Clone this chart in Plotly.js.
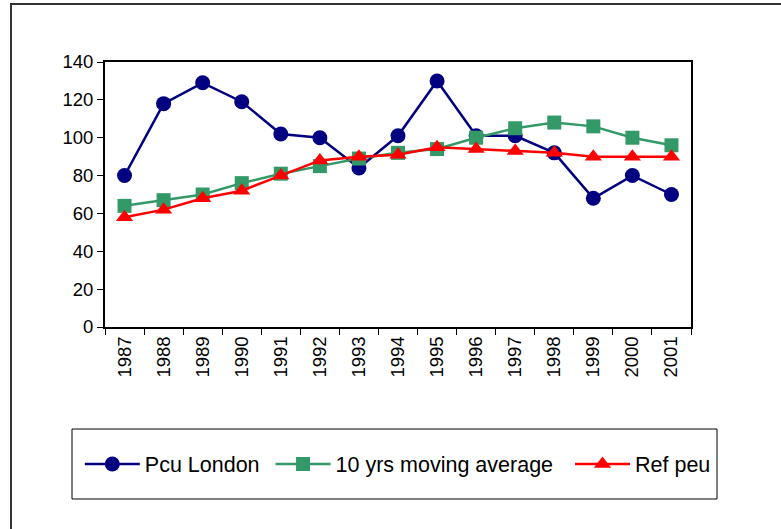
<!DOCTYPE html>
<html>
<head>
<meta charset="utf-8">
<script src="https://cdn.plot.ly/plotly-3.0.1.min.js"></script>
<style>
  html, body { margin: 0; padding: 0; background: #fff; }
  #wrap { position: relative; width: 781px; height: 529px; overflow: hidden; }
  #frame { position: absolute; left: 10px; top: 3px; width: 800px; height: 600px;
           border-left: 2px solid #333; border-top: 2px solid #333; pointer-events: none; }
  #chart { position: absolute; left: 0; top: 0; width: 781px; height: 529px; }
</style>
</head>
<body>
<div id="wrap">
  <div id="chart"></div>
  <div id="frame"></div>
</div>
<script>
const years = ["1987","1988","1989","1990","1991","1992","1993","1994","1995","1996","1997","1998","1999","2000","2001"];
const pcuLondon = [80,118,129,119,102,100,84,101,130,101,101,92,68,80,70];
const movingAvg = [64,67,70,76,81,85,89,92,94,100,105,108,106,100,96];
const refPeu = [58,62,68,72,80,88,90,91,95,94,93,92,90,90,90];
const seriesNames = ["Pcu London","10 yrs moving average","Ref peu"];

const NB = '\u00a0';
const traces = [
  {x: years, y: pcuLondon, name: seriesNames[0] + NB, type: 'scatter', mode: 'lines+markers',
   line: {color: '#000080', width: 2.5}, marker: {symbol: 'circle', size: 15, color: '#000080'}},
  {x: years, y: movingAvg, name: seriesNames[1] + NB + NB, type: 'scatter', mode: 'lines+markers',
   line: {color: '#339966', width: 2.5}, marker: {symbol: 'square', size: 14, color: '#339966'}},
  {x: years, y: refPeu, name: seriesNames[2], type: 'scatter', mode: 'lines+markers',
   line: {color: '#FF0000', width: 2.5}, marker: {symbol: 'triangle-up', size: 15, color: '#FF0000'}}
];

const layout = {
  width: 781, height: 529,
  margin: {l: 105, r: 90, t: 62, b: 202},
  paper_bgcolor: 'rgba(0,0,0,0)', plot_bgcolor: '#fff',
  font: {family: '"Liberation Sans", Arial, sans-serif', color: '#000', size: 18},
  showlegend: true,
  legend: {
    orientation: 'h', x: -0.043, xanchor: 'left', y: -0.517, yanchor: 'middle',
    font: {size: 21.5, color: '#000'}, itemwidth: 55, bgcolor: 'rgba(0,0,0,0)',
    borderwidth: 0
  },
  xaxis: {
    type: 'category', range: [-0.5, 14.5], showline: true, mirror: true, linewidth: 2, linecolor: '#000',
    ticks: 'outside', tickson: 'boundaries', ticklen: 6, tickcolor: '#000', tickwidth: 1,
    tickangle: -90, tickfont: {size: 18.5}, showgrid: false, zeroline: false, fixedrange: true
  },
  yaxis: {
    range: [0, 140], dtick: 20, showline: true, mirror: true, linewidth: 2, linecolor: '#000',
    ticks: 'outside', ticklen: 6, tickcolor: '#000', tickwidth: 1,
    tickfont: {size: 18.5}, showgrid: false, zeroline: false, fixedrange: true
  },
  shapes: [
    {type: 'rect', xref: 'paper', yref: 'paper', x0: -0.0563, x1: 1.0444, y0: -0.649, y1: -0.385,
     line: {color: '#000', width: 1}, fillcolor: 'rgba(0,0,0,0)'}
  ]
};

Plotly.newPlot('chart', traces, layout, {staticPlot: true});
</script>
</body>
</html>
